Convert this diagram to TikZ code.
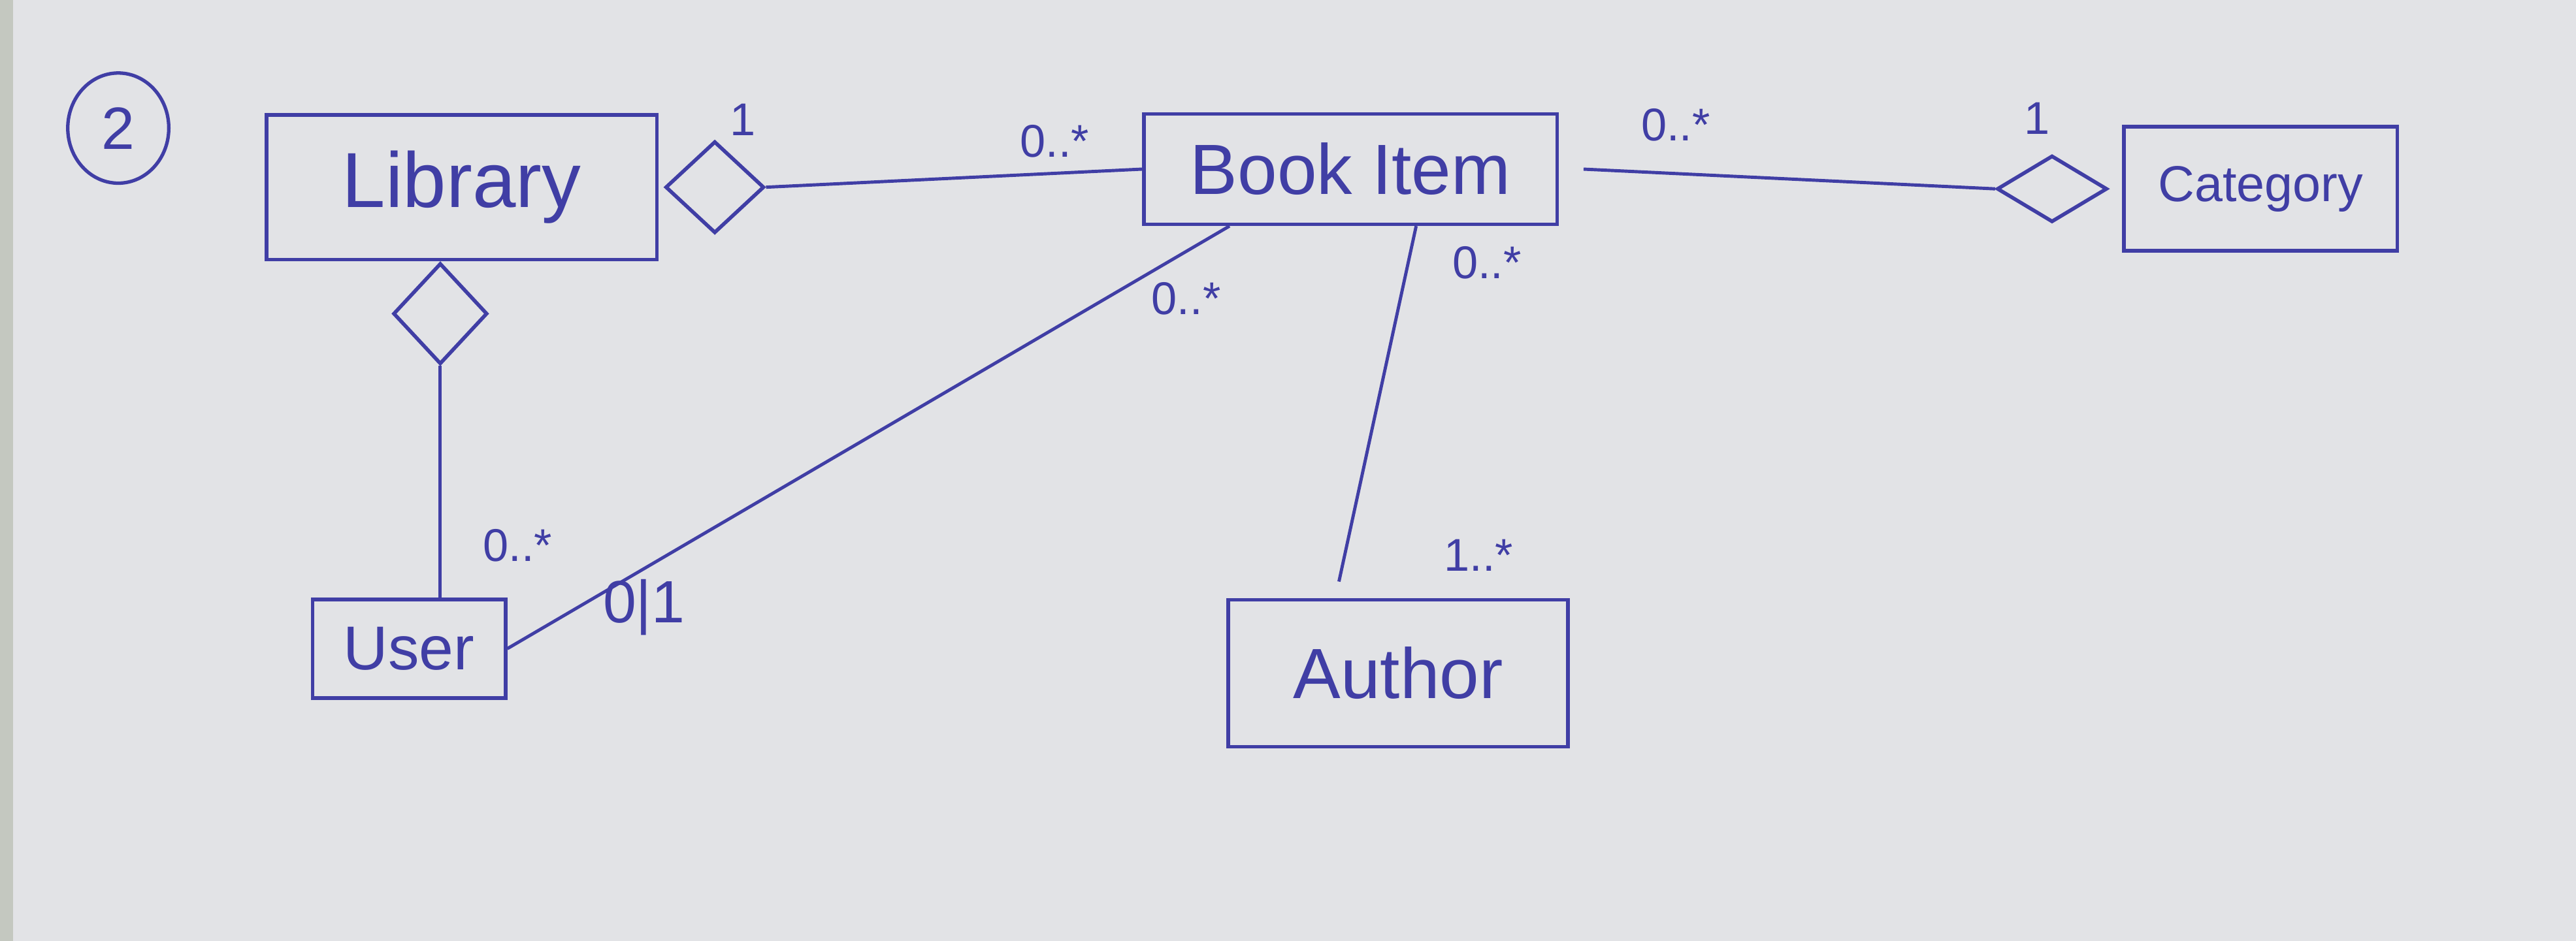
\documentclass[tikz,border=0pt]{standalone}
\usepackage{fontspec}
\setmainfont{Liberation Sans}
\usetikzlibrary{shapes.geometric,calc}
\definecolor{pen}{RGB}{64,62,165}
\definecolor{paper}{RGB}{226,227,230}
\definecolor{edge}{RGB}{196,200,192}
\tikzset{
  cls/.style={draw=pen, line width=1.6pt, text=pen, inner sep=0pt},
  agg/.style={diamond, draw=pen, line width=1.6pt, inner sep=0pt, minimum width=43pt, minimum height=40pt},
  conn/.style={draw=pen, line width=1.4pt},
  mult/.style={text=pen, font=\fontsize{20}{24}\selectfont, inner sep=1pt},
}
\begin{document}
\begin{tikzpicture}[x=0.02515cm,y=-0.02515cm]
\fill[paper] (0,0) rectangle (1568,573);
\fill[edge] (0,0) rectangle (8,573);
\useasboundingbox (0,0) rectangle (1568,573);

% circled number
\node[ellipse, draw=pen, line width=1.5pt, text=pen, minimum width=44pt, minimum height=48pt, font=\fontsize{26}{30}\selectfont] (num) at (72,78) {2};

% classes
\node[cls, minimum width=170pt, minimum height=63pt, font=\fontsize{34}{40}\selectfont] (lib) at (281,114) {Library};
\node[cls, minimum width=180pt, minimum height=48pt, font=\fontsize{31}{36}\selectfont] (bi) at (822,103) {Book Item};
\node[cls, minimum width=119pt, minimum height=54pt, font=\fontsize{22}{26}\selectfont] (cat) at (1376,115) {Category};
\node[cls, minimum width=84pt, minimum height=43pt, font=\fontsize{27}{32}\selectfont] (user) at (249,395) {User};
\node[cls, minimum width=148pt, minimum height=64pt, font=\fontsize{31}{36}\selectfont] (au) at (851,410) {Author};

% aggregation diamonds
\node[agg, anchor=west] (dlib) at ($(lib.east)+(3,0)$) {};
\node[agg, anchor=north, minimum width=41pt, minimum height=44pt] (dlib2) at ($(lib.south)+(-13,0)$) {};
\node[agg, anchor=east, minimum width=48pt, minimum height=29pt] (dcat) at ($(cat.west)+(-8,0)$) {};

% connectors
\draw[conn] (dlib.east) -- (bi.west);
\draw[conn] ($(bi.east)+(15,0)$) -- (dcat.west);
\draw[conn] (dlib2.south) -- (dlib2.south |- user.north);
\draw[conn] (user.east) -- ($(bi.south west)!0.21!(bi.south east)$);
\draw[conn] ($(bi.south)+(40,0)$) -- ($(au.north)+(-36,-10)$);

% multiplicities
\node[mult] (m1) at (452,73) {1};
\node[mult] (m2) at (642,86) {0..*};
\node[mult] (m3) at (1020,76) {0..*};
\node[mult] (m4) at (1240,72) {1};
\node[mult] (m5) at (315,332) {0..*};
\node[mult, font=\fontsize{26}{30}\selectfont] (m6) at (392,370) {0|1};
\node[mult] (m7) at (722,182) {0..*};
\node[mult] (m8) at (905,160) {0..*};
\node[mult] (m9) at (900,338) {1..*};
\end{tikzpicture}
\end{document}
